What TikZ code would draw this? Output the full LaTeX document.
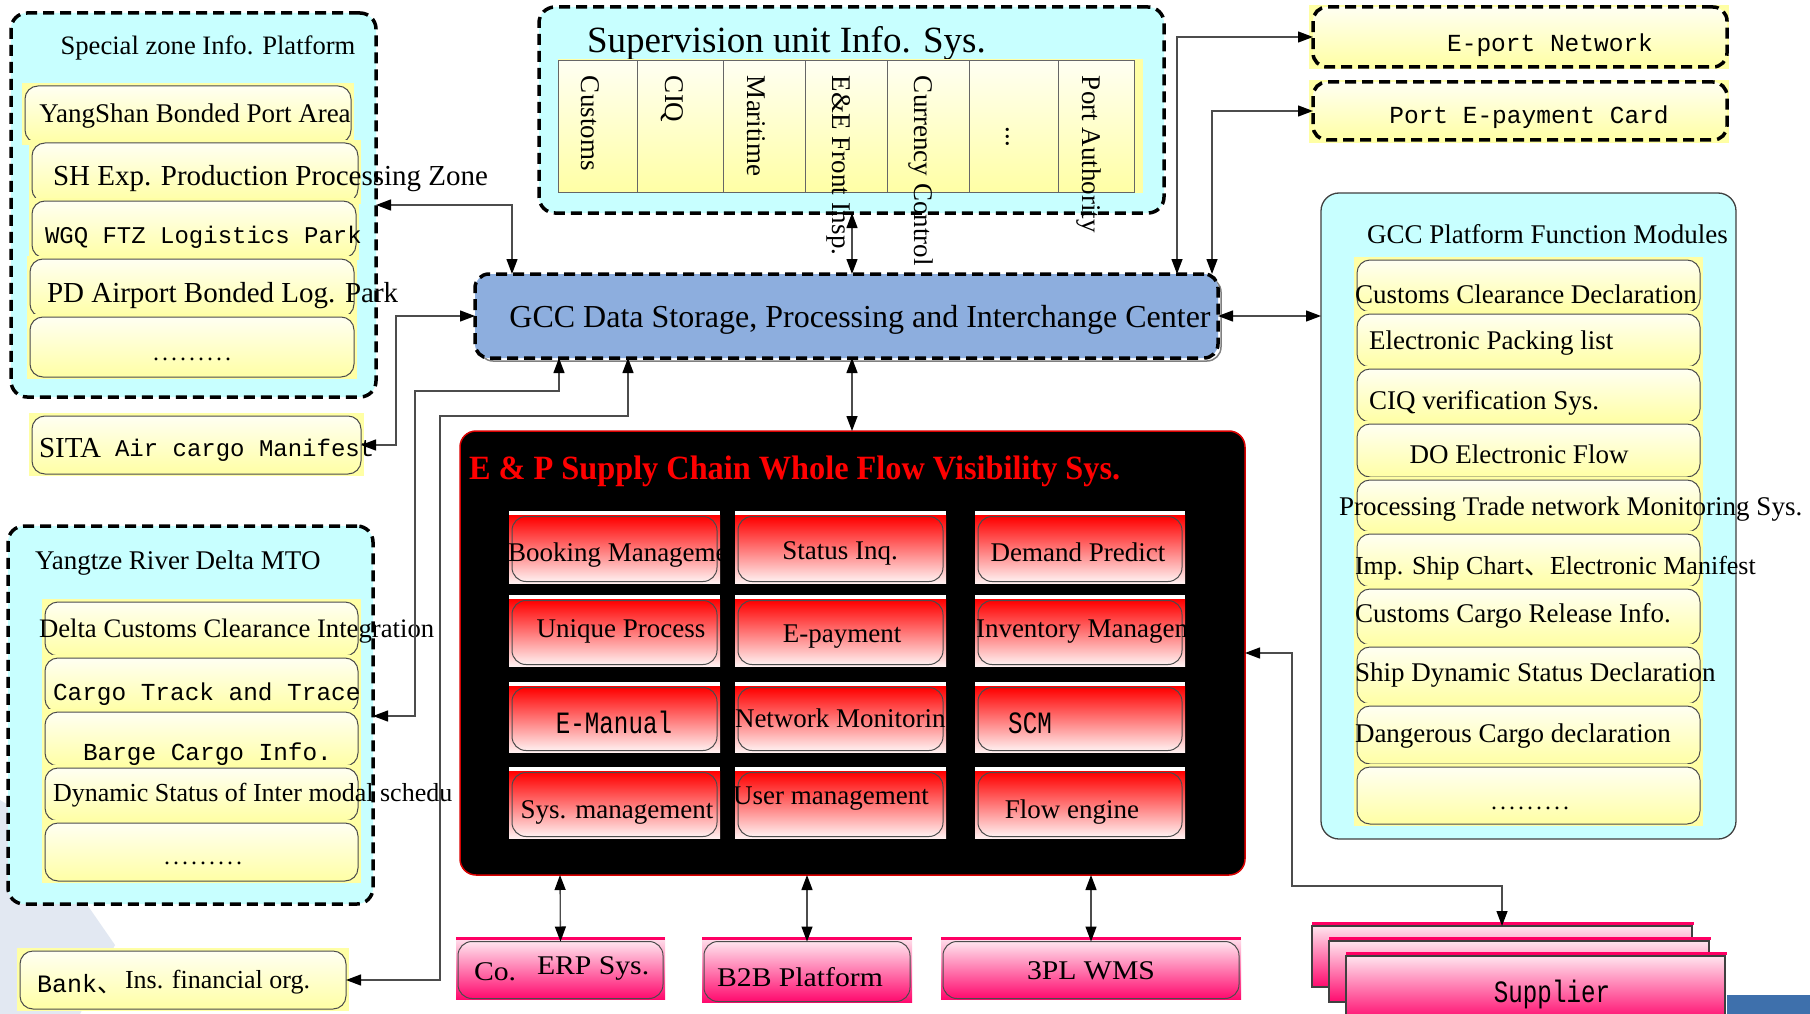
\documentclass[tikz,border=0pt]{standalone}
\usepackage{fontspec}
\setmainfont{Liberation Serif}
\setmonofont{Liberation Mono}
\newfontfamily\titleserif[FakeStretch=0.95]{Liberation Serif}
\newfontfamily\wideserif[FakeStretch=1.1]{Liberation Serif}
\newfontfamily\condmono[FakeStretch=0.78]{Liberation Mono}
\newfontfamily\cjkfont{Noto Sans CJK SC}
\usetikzlibrary{arrows.meta}
\definecolor{cyanbg}{RGB}{200,255,255}
\definecolor{ylw}{RGB}{255,255,165}
\definecolor{ylwlight}{RGB}{255,255,242}
\definecolor{gccblue}{RGB}{141,174,222}
\definecolor{redtop}{RGB}{255,0,0}
\definecolor{redbot}{RGB}{255,240,240}
\definecolor{pinklight}{RGB}{255,228,238}
\definecolor{pinkdeep}{RGB}{255,10,110}
\definecolor{pinkline}{RGB}{255,0,100}
\definecolor{wmark}{RGB}{226,232,242}
\definecolor{logoblue}{RGB}{62,112,172}
\newcommand\fsz[1]{\fontsize{#1}{#1}\selectfont}
\newcommand\dotrow{.\kern3pt.\kern3pt.\kern3pt.\kern3pt.\kern3pt.\kern3pt.\kern3pt.\kern3pt.}
\tikzset{
  every node/.style={inner sep=0pt,outer sep=0pt},
  dashbox/.style={draw=black,line width=3.5pt,dash pattern=on 11pt off 6pt,rounded corners=16pt,fill=cyanbg},
  solidbox/.style={draw=black!75,line width=1.3pt,rounded corners=18pt,fill=cyanbg},
  yitem/.style={draw=black!70,line width=1pt,rounded corners=13pt,top color=ylwlight,bottom color=ylw},
  ydash/.style={draw=black,line width=3.5pt,dash pattern=on 11pt off 6pt,rounded corners=14pt,top color=ylwlight,bottom color=ylw},
  colbox/.style={draw=black!60,line width=1pt,top color=ylwlight,bottom color=ylw},
  epbox/.style={draw=black!70,line width=1pt,rounded corners=14pt,top color=redtop,bottom color=redbot},
  pkbox/.style={draw=black!70,line width=1pt,rounded corners=14pt,top color=pinklight,bottom color=pinkdeep},
  pkrect/.style={draw=black!75,line width=1.2pt,top color=pinklight,bottom color=pinkdeep},
  tw/.style={anchor=base west,font=\fsz{#1},yshift={-0.34*#1}},
  tc/.style={anchor=base,font=\fsz{#1},yshift={-0.34*#1}},
  rot/.style={rotate=-90,anchor=west,font=\fsz{27}},
  conn/.style={draw=black!70,line width=1.3pt},
}
\newcommand\yitemat[5]{%
  \fill[ylw] (#2-3,#3-3) rectangle (#4+3,#5+2);
  \node[yitem,minimum width={#4-#2},minimum height={#5-#3}] (#1) at ({(#2+#4)/2},{(#3+#5)/2}) {};
}
\newcommand\epcell[5]{%
  \fill[white] (#2,#3) rectangle (#4,#5);
  \fill[top color=redtop,bottom color=redbot] (#2,#3+4) rectangle (#4,#5);
  \node[epbox,minimum width={#4-#2-6},minimum height={#5-#3-7}] (#1) at ({(#2+#4)/2},{(#3+#5)/2+2}) {};
}
\newcommand\pkitem[5]{%
  \fill[top color=pinklight,bottom color=pinkdeep] (#2,#3) rectangle (#4,#5);
  \fill[pinkline] (#2,#3) rectangle (#4,#3+3);
  \node[pkbox,minimum width={#4-#2-4},minimum height={#5-#3-5}] (#1) at ({(#2+#4)/2},{(#3+#5)/2+2}) {};
}
\newcommand\supbox[5]{%
  \node[pkrect,minimum width={#4-#2},minimum height={#5-#3}] (#1) at ({(#2+#4)/2},{(#3+#5)/2}) {};
  \fill[pinkline] (#2,#3-4) rectangle (#4+2,#3-1);
}
\begin{document}
\begin{tikzpicture}[x=1pt,y=-1pt,>={Triangle[length=15pt,width=11pt,color=black]}]
\useasboundingbox (0,0) rectangle (1810,1014);
\fill[white] (0,0) rectangle (1810,1014);
% background watermark pieces
\fill[wmark] (0,800) -- (25,815) -- (115,945) -- (80,1014) -- (0,1014) -- cycle;
\fill[logoblue] (1727,995) rectangle (1810,1014);

% ---------- Special zone ----------
\node[dashbox,minimum width=365,minimum height=384] (spz) at (193.5,205) {};
\node[tc=26.6] (spzT) at (208,45) {Special zone Info. Platform};
\yitemat{sz1}{25}{86}{351}{143}
\yitemat{sz2}{32}{143}{358}{202}
\yitemat{sz3}{32}{201}{356}{258}
\yitemat{sz4}{30}{259}{354}{317}
\yitemat{sz5}{30}{317}{354}{377}
\node[tc=27] (sz1t) at (195,113) {YangShan Bonded Port Area};
\node[tw=29] (sz2t) at (53,176) {SH Exp. Production Processing Zone};
\node[tw=24,font=\fsz{24}\ttfamily] (sz3t) at (45,235) {WGQ FTZ Logistics Park};
\node[tw=29] (sz4t) at (47,293) {PD Airport Bonded Log. Park};
\node[anchor=base,font=\fsz{24}] (sz5t) at (192,360) {\dotrow};

% ---------- SITA ----------
\yitemat{sita}{32}{416}{361}{474}
\node[tw=29] (sitat) at (39,448) {SITA};
\node[tw=24,font=\fsz{24}\ttfamily] (sitat2) at (115,448) {Air cargo Manifest};

% ---------- Yangtze ----------
\node[dashbox,minimum width=365,minimum height=378] (ytz) at (190.5,715) {};
\node[tw=27] (ytzT) at (35,560) {Yangtze River Delta MTO};
\yitemat{yt1}{45}{602}{358}{656}
\yitemat{yt2}{45}{658}{358}{712}
\yitemat{yt3}{45}{712}{358}{766}
\yitemat{yt4}{45}{768}{358}{821}
\yitemat{yt5}{45}{823}{358}{881}
\node[tw=26.7] (yt1t) at (39,628) {Delta Customs Clearance Integration};
\node[tw=24.4,font=\fsz{24.4}\ttfamily] (yt2t) at (53,692) {Cargo Track and Trace};
\node[tw=24.4,font=\fsz{24.4}\ttfamily] (yt3t) at (83,752) {Barge Cargo Info.};
\node[tw=26] (yt4t) at (53,793) {Dynamic Status of Inter modal schedu};
\node[anchor=base,font=\fsz{24}] (yt5t) at (203,864) {\dotrow};

% ---------- Bank ----------
\yitemat{bank}{20}{951}{346}{1009}
\node[tw=25,font=\fsz{25}\ttfamily] (bankt) at (37,984) {Bank{\cjkfont 、}};
\node[tw=26] (bankt2) at (125,980) {Ins. financial org.};

% ---------- Supervision ----------
\node[dashbox,minimum width=625,minimum height=206] (sup) at (851.5,110) {};
\node[tw=37] (supT) at (587,40) {Supervision unit Info. Sys.};
\fill[ylw] (558,59) rectangle (1143,193);
\node[colbox,minimum width=79,minimum height=131] (c1) at (597.5,126.5) {};
\node[colbox,minimum width=86,minimum height=131] (c2) at (680,126.5) {};
\node[colbox,minimum width=82,minimum height=131] (c3) at (764,126.5) {};
\node[colbox,minimum width=82,minimum height=131] (c4) at (846,126.5) {};
\node[colbox,minimum width=82,minimum height=131] (c5) at (928,126.5) {};
\node[colbox,minimum width=89,minimum height=131] (c6) at (1013.5,126.5) {};
\node[colbox,minimum width=76,minimum height=131] (c7) at (1096,126.5) {};
\node[rot] (c1t) at (590,76) {Customs};
\node[rot] (c2t) at (672,76) {CIQ};
\node[rot] (c3t) at (756,76) {Maritime};
\node[rot] (c4t) at (839,76) {E\&E Front Insp.};
\node[rot] (c5t) at (921,76) {Currency Control};
\node[rotate=-90,anchor=center,font=\fsz{27}] (c6t) at (1008,137) {...};
\node[rot] (c7t) at (1089,76) {Port Authority};

% ---------- E-port / payment ----------
\fill[ylw] (1309,5) rectangle (1729,69);
\node[ydash,minimum width=414,minimum height=60] (eport) at (1520,37) {};
\node[tc=24.5,font=\fsz{24.5}\ttfamily] (eportt) at (1550,43) {E-port Network};
\fill[ylw] (1309,80) rectangle (1729,143);
\node[ydash,minimum width=414,minimum height=58] (pay) at (1520,111) {};
\node[tc=24.5,font=\fsz{24.5}\ttfamily] (payt) at (1529,115) {Port E-payment Card};

% ---------- GCC center ----------
\draw[black!50,line width=1.5pt,rounded corners=14pt] (479,278) rectangle (1221,361);
\node[draw=black,line width=3.5pt,dash pattern=on 11pt off 6pt,rounded corners=14pt,fill=gccblue,minimum width=743,minimum height=84] (gcc) at (846.5,316) {};
\node[tc=32] (gcct) at (860,317) {GCC Data Storage, Processing and Interchange Center};

% ---------- GCC Platform Function Modules ----------
\node[solidbox,minimum width=415,minimum height=646] (mod) at (1528.5,516) {};
\node[tw=27] (modT) at (1367,234) {GCC Platform Function Modules};
\yitemat{m1}{1357}{260}{1700}{312}
\yitemat{m2}{1357}{314}{1700}{367}
\yitemat{m3}{1357}{369}{1700}{422}
\yitemat{m4}{1357}{424}{1700}{477}
\yitemat{m5}{1357}{480}{1700}{532}
\yitemat{m6}{1357}{534}{1700}{587}
\yitemat{m7}{1357}{589}{1700}{645}
\yitemat{m8}{1357}{647}{1700}{704}
\yitemat{m9}{1357}{706}{1700}{764}
\yitemat{m10}{1357}{767}{1700}{824}
\node[tw=27] (m1t) at (1355,294) {Customs Clearance Declaration};
\node[tw=27] (m2t) at (1369,340) {Electronic Packing list};
\node[tw=27] (m3t) at (1369,400) {CIQ verification Sys.};
\node[tc=27] (m4t) at (1519,454) {DO Electronic Flow};
\node[tw=27] (m5t) at (1339,506) {Processing Trade network Monitoring Sys.};
\node[tw=26] (m6t) at (1355,566) {Imp. Ship Chart{\cjkfont 、}Electronic Manifest};
\node[tw=27] (m7t) at (1355,613) {Customs Cargo Release Info.};
\node[tw=27] (m8t) at (1355,672) {Ship Dynamic Status Declaration};
\node[tw=27] (m9t) at (1355,733) {Dangerous Cargo declaration};
\node[anchor=base,font=\fsz{24}] (m10t) at (1530,809) {\dotrow};

% ---------- E & P ----------
\node[fill=black,draw=red!85!black,line width=1.5pt,rounded corners=16pt,minimum width=785,minimum height=444] (ep) at (852.5,653) {};
\node[anchor=base west,font=\titleserif\bfseries\fsz{34},text=red,yshift=-11.5pt] (epT) at (469,468) {E \& P Supply Chain Whole Flow Visibility Sys.};
\epcell{e11}{509}{511}{720}{583}
\epcell{e12}{735}{511}{946}{583}
\epcell{e13}{975}{511}{1185}{583}
\epcell{e21}{509}{595}{720}{666}
\epcell{e22}{735}{595}{946}{666}
\epcell{e23}{975}{595}{1185}{666}
\epcell{e31}{509}{682}{720}{752}
\epcell{e32}{735}{682}{946}{752}
\epcell{e33}{975}{682}{1185}{752}
\epcell{e41}{509}{767}{720}{838}
\epcell{e42}{735}{767}{946}{838}
\epcell{e43}{975}{767}{1185}{838}
\begin{scope}
\clip (509,511) rectangle (720,583);
\node[tw=27] (e11t) at (508,552) {Booking Manageme};
\end{scope}
\node[tc=27] (e12t) at (840,550) {Status Inq.};
\node[tc=27] (e13t) at (1078,552) {Demand Predict};
\node[tc=27] (e21t) at (621,628) {Unique Process};
\node[tc=27] (e22t) at (842,633) {E-payment};
\begin{scope}
\clip (975,595) rectangle (1185,666);
\node[tw=27] (e23t) at (976,628) {Inventory Managem};
\end{scope}
\node[tc=31,font=\condmono\fsz{31}] (e31t) at (614,723) {E-Manual};
\begin{scope}
\clip (735,682) rectangle (946,752);
\node[tw=27] (e32t) at (735,718) {Network Monitoring};
\end{scope}
\node[tc=31,font=\condmono\fsz{31}] (e33t) at (1030,723) {SCM};
\node[tc=27] (e41t) at (617,809) {Sys. management};
\node[tc=27] (e42t) at (831,795) {User management};
\node[tc=27] (e43t) at (1072,809) {Flow engine};

% ---------- bottom systems ----------
\pkitem{erp}{456}{937}{665}{999}
\pkitem{b2b}{702}{937}{912}{1002}
\pkitem{wms}{941}{937}{1241}{999}
\node[tw=27,font=\wideserif\fsz{27}] (erpt) at (474,971) {Co.};
\node[tw=27,font=\wideserif\fsz{27}] (erpt2) at (537,965) {ERP Sys.};
\node[tc=27,font=\wideserif\fsz{27}] (b2bt) at (800,977) {B2B Platform};
\node[tc=27,font=\wideserif\fsz{27}] (wmst) at (1091,970) {3PL WMS};
\supbox{supA}{1312}{926}{1692}{987}
\supbox{supB}{1329}{941}{1709}{1002}
\supbox{supC}{1346}{956}{1725}{1020}
\node[tc=31,font=\condmono\fsz{31}] (supt) at (1552,992) {Supplier};

% ---------- connectors ----------
\draw[conn,<->] (spz.east |- 0,205) -| (512,0 |- gcc.north);
\draw[conn,<->] (sita.east) -| (396,0 |- gcc.west) -- (gcc.west);
\draw[conn,<->] (ytz.east |- 0,716) -| (415,391) -| (559,0 |- gcc.south);
\draw[conn,<->] (bank.east) -| (440,416) -| (628,0 |- gcc.south);
\draw[conn,<->] (852,0 |- sup.south) -- (852,0 |- gcc.north);
\draw[conn,<->] (852,0 |- gcc.south) -- (852,0 |- ep.north);
\draw[conn,<->] (1177,0 |- gcc.north) |- (eport.west);
\draw[conn,<->] (1212,0 |- gcc.north) |- (pay.west);
\draw[conn,<->] (gcc.east) -- (mod.west |- gcc.east);
\draw[conn,<->] (ep.east) -| (1292,886) -| (supA.north);
\draw[conn,<->] (560,0 |- ep.south) -- (erp.north);
\draw[conn,<->] (807,0 |- ep.south) -- (b2b.north);
\draw[conn,<->] (1091,0 |- ep.south) -- (wms.north);
\end{tikzpicture}
\end{document}
